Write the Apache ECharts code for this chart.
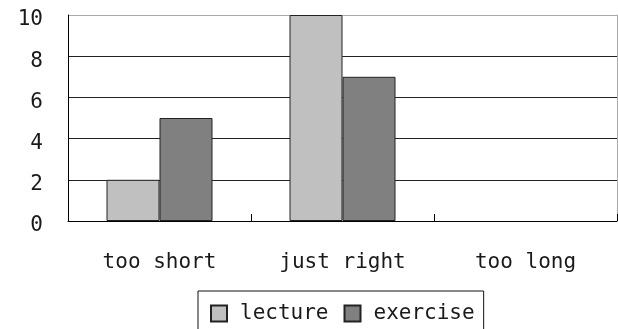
<!DOCTYPE html>
<html>
<head>
<meta charset="utf-8">
<script src="https://cdn.jsdelivr.net/npm/echarts@6/dist/echarts.min.js"></script>
<style>
  html, body { margin: 0; padding: 0; background: #fff; }
  #chart { width: 618px; height: 329px; }
</style>
</head>
<body>
<div id="chart"></div>
<script>
// Session length ratings, grouped by session type
const categories = ['too short', 'just right', 'too long'];
const lectureCounts = [2, 10, 0];
const exerciseCounts = [5, 7, 0];
const yTicks = [0, 2, 4, 6, 8, 10];

const FONT = 'DejaVu Sans Mono';
const chart = echarts.init(document.getElementById('chart'), null, { renderer: 'canvas' });

// empty bars get no outline so nothing is drawn on the baseline
function barItems(values) {
  return values.map(v => (v === 0 ? { value: v, itemStyle: { borderWidth: 0 } } : v));
}

chart.setOption({
  backgroundColor: '#fff',
  animation: false,
  textStyle: { fontFamily: FONT, color: '#1a1a1a' },
  grid: { left: 68, right: 1, top: 15, bottom: 108 },
  legend: {
    left: 198,
    top: 291,
    orient: 'horizontal',
    borderColor: '#111',
    borderWidth: 1,
    padding: [12, 9, 30, 12],
    itemWidth: 16,
    itemHeight: 16,
    itemGap: 15,
    icon: 'rect',
    textStyle: { fontFamily: FONT, fontSize: 21, color: '#1a1a1a', padding: [0, 0, 0, 8] },
    data: ['lecture', 'exercise']
  },
  xAxis: {
    type: 'category',
    data: categories,
    axisLine: { lineStyle: { color: '#000', width: 1 } },
    axisTick: { show: true, inside: true, length: 7, lineStyle: { color: '#000' } },
    axisLabel: { fontFamily: FONT, fontSize: 21, color: '#1a1a1a', margin: 31 },
    splitLine: { show: false }
  },
  yAxis: [
    {
      type: 'value',
      min: yTicks[0],
      max: yTicks[yTicks.length - 1],
      interval: yTicks[1] - yTicks[0],
      axisLine: { show: true, lineStyle: { color: '#000', width: 1 } },
      axisTick: { show: false },
      axisLabel: {
        fontFamily: FONT, fontSize: 21, color: '#1a1a1a', margin: 25,
        verticalAlign: 'top', lineHeight: 10
      },
      splitLine: {
        show: true,
        lineStyle: { color: ['#000', '#222', '#222', '#222', '#222', '#aaa'], width: 1 }
      }
    },
    {
      type: 'value',
      position: 'right',
      min: yTicks[0],
      max: yTicks[yTicks.length - 1],
      axisLine: { show: true, lineStyle: { color: '#aaa', width: 1 } },
      axisTick: { show: false },
      axisLabel: { show: false },
      splitLine: { show: false }
    }
  ],
  series: [
    {
      name: 'lecture',
      type: 'bar',
      data: barItems(lectureCounts),
      barWidth: 53,
      barGap: '0%',
      itemStyle: { color: '#c0c0c0', borderColor: '#222', borderWidth: 1 }
    },
    {
      name: 'exercise',
      type: 'bar',
      data: barItems(exerciseCounts),
      barWidth: 53,
      barGap: '0%',
      itemStyle: { color: '#808080', borderColor: '#222', borderWidth: 1 }
    }
  ]
});
</script>
</body>
</html>
